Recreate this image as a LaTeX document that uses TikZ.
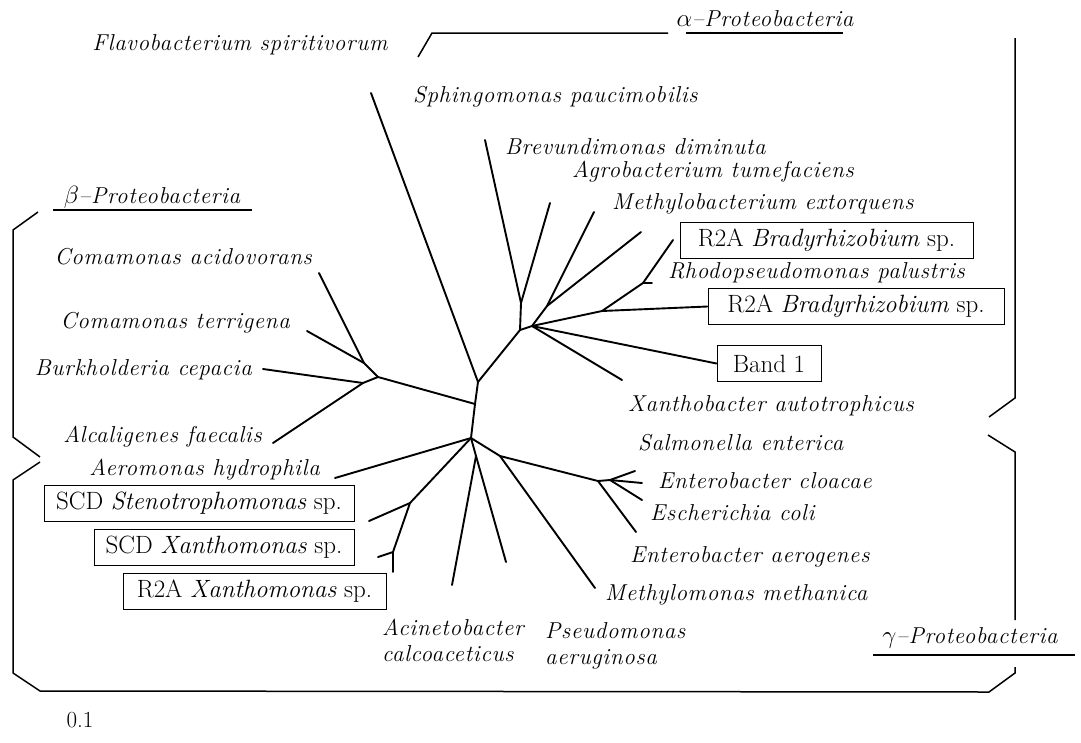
\documentclass[tikz,border=0pt]{standalone}
\usepackage{fontspec}
\setmainfont{Latin Modern Roman}
\newfontfamily\labfont{Latin Modern Roman}[LetterSpace=3]
\begin{document}
\begin{tikzpicture}[x=1pt,y=-1pt,
  tr/.style={line width=1.9pt, line cap=round, line join=round},
  brk/.style={line width=1.5pt, line join=miter},
  lab/.style={font=\labfont\fontsize{23}{26}\selectfont\itshape, inner sep=0pt, anchor=west, align=left},
  labr/.style={lab, anchor=east},
  grp/.style={font=\labfont\fontsize{23}{26}\selectfont\itshape, inner sep=0pt},
  bx/.style={draw, line width=1pt, font=\fontsize{25}{28}\selectfont, inner sep=0pt, minimum height=36pt},
  ]
\useasboundingbox (0,0) rectangle (1081,742);

% ---------- labels ----------
\node[grp] (flavo)   at (240,45)  {Flavobacterium spiritivorum};
\node[lab] (sphingo) at (413,97)  {Sphingomonas paucimobilis};
\node[lab] (brev)    at (505,147) {Brevundimonas diminuta};
\node[lab] (agro)    at (572,172) {Agrobacterium tumefaciens};
\node[lab] (methylo) at (612,204) {Methylobacterium extorquens};
\node[bx, minimum width=293pt] (bra1) at (826.5,240) {R2A \textit{Bradyrhizobium} sp.};
\node[lab] (rhodo)   at (668,273) {Rhodopseudomonas palustris};
\node[bx, minimum width=296pt] (bra2) at (856,306.5) {R2A \textit{Bradyrhizobium} sp.};
\node[bx, minimum width=104pt] (band) at (769,363.5) {Band 1};
\node[lab] (xanthob) at (628,406) {Xanthobacter autotrophicus};
\node[lab] (salm)    at (638,443) {Salmonella enterica};
\node[lab] (ecloa)   at (658,481) {Enterobacter cloacae};
\node[lab] (ecoli)   at (650,513) {Escherichia coli};
\node[lab] (eaer)    at (630,557) {Enterobacter aerogenes};
\node[lab] (methm)   at (605,595) {Methylomonas methanica};
\node[lab] (pseudo)  at (545,646) {Pseudomonas\\aeruginosa};
\node[lab] (acin)    at (382,640) {Acinetobacter\\calcoaceticus};
\node[labr] (comA)    at (312,257)  {Comamonas acidovorans};
\node[labr] (comT)    at (290,323)  {Comamonas terrigena};
\node[labr] (burk)    at (252,370)  {Burkholderia cepacia};
\node[labr] (alc)     at (262,437)  {Alcaligenes faecalis};
\node[labr] (aero)    at (320,470)  {Aeromonas hydrophila};
\node[bx, minimum width=310pt] (steno) at (199,503.5) {SCD \textit{Stenotrophomonas} sp.};
\node[bx, minimum width=260pt] (scdx)  at (224,547)   {SCD \textit{Xanthomonas} sp.};
\node[bx, minimum width=263pt] (r2ax)  at (254.5,591.5) {R2A \textit{Xanthomonas} sp.};
\node[grp] (alpha) at (765,19)  {$\alpha$\textendash Proteobacteria};
\node[grp] (beta)  at (152,197) {$\beta$\textendash Proteobacteria};
\node[grp] (gamma) at (970,638) {$\gamma$\textendash Proteobacteria};
\node[font=\fontsize{23}{26}\selectfont, inner sep=0pt] (scale) at (80,720) {0.1};

% ---------- internal nodes ----------
\coordinate (A)  at (478,382);
\coordinate (Bn) at (520,330);
\coordinate (S)  at (521,303);
\coordinate (B2) at (532,326);
\coordinate (M)  at (547,306);
\coordinate (Q)  at (602,311);
\coordinate (R)  at (643,283);
\coordinate (J)  at (475,404);
\coordinate (N2) at (378,377);
\coordinate (N3) at (364,363);
\coordinate (N1) at (363,383);
\coordinate (C)  at (471,438);
\coordinate (X1) at (410,503);
\coordinate (X2) at (393,552);
\coordinate (P)  at (476,456);
\coordinate (G1) at (500,456);
\coordinate (E)  at (598,481);
\coordinate (E2) at (610,480);
% tips
\coordinate (tFlavo)  at (371,93);
\coordinate (tSph)    at (485,140);
\coordinate (tBrev)   at (550,203);
\coordinate (tAgro)   at (594,212);
\coordinate (tMeth)   at (641,232);
\coordinate (tBra1)   at (673,240);
\coordinate (tRhodo)  at (652,283);
\coordinate (tXanB)   at (622,380);
\coordinate (tComA)   at (319,273);
\coordinate (tComT)   at (307,331);
\coordinate (tBurk)   at (263,369);
\coordinate (tAlc)    at (273,443);
\coordinate (tAero)   at (335,478);
\coordinate (tSteno)  at (369,521);
\coordinate (tSCDX)   at (378,557);
\coordinate (tR2AX)   at (393,572);
\coordinate (tAcin)   at (452,585);
\coordinate (tPseudo) at (506,562);
\coordinate (tMethm)  at (595,588);
\coordinate (tEaer)   at (636,532);
\coordinate (tSalm)   at (635,471);
\coordinate (tEcloa)  at (642,483);
\coordinate (tEcoli)  at (642,500);

% ---------- tree ----------
\draw[tr] (tFlavo) -- (A) -- (J) -- (C);
\draw[tr] (A) -- (Bn) -- (S) -- (tSph);
\draw[tr] (S) -- (tBrev);
\draw[tr] (Bn) -- (B2) -- (M) -- (tAgro);
\draw[tr] (M) -- (tMeth);
\draw[tr] (B2) -- (Q) -- (bra2.west);
\draw[tr] (Q) -- (R) -- (tBra1);
\draw[tr] (R) -- (tRhodo);
\draw[tr] (B2) -- (band.west);
\draw[tr] (B2) -- (tXanB);
% beta
\draw[tr] (J) -- (N2) -- (N3) -- (tComA);
\draw[tr] (N3) -- (tComT);
\draw[tr] (N2) -- (N1) -- (tBurk);
\draw[tr] (N1) -- (tAlc);
% gamma
\draw[tr] (C) -- (tAero);
\draw[tr] (C) -- (X1) -- (tSteno);
\draw[tr] (X1) -- (X2) -- (tSCDX);
\draw[tr] (X2) -- (tR2AX);
\draw[tr] (C) -- (P) -- (tAcin);
\draw[tr] (P) -- (tPseudo);
\draw[tr] (C) -- (G1) -- (tMethm);
\draw[tr] (G1) -- (E) -- (tEaer);
\draw[tr] (E) -- (E2) -- (tSalm);
\draw[tr] (E2) -- (tEcloa);
\draw[tr] (E2) -- (tEcoli);

% ---------- brackets ----------
\draw[brk] (418,57) -- (432,33) -- (668,33);
\draw[brk] (686,33) -- (843,33);
\draw[brk] (1015,38) -- (1015,398) -- (989,417);
\draw[brk] (53,210) -- (252,210);
\draw[brk] (38,212) -- (13,230) -- (13,437) -- (40,457);
\draw[brk] (40,462) -- (13,480) -- (13,673) -- (40,691) -- (989,692) -- (1015,673) -- (1015,667);
\draw[brk] (988,435) -- (1015,452) -- (1015,620);
\draw[brk] (873,655) -- (1075,655);
\end{tikzpicture}
\end{document}
